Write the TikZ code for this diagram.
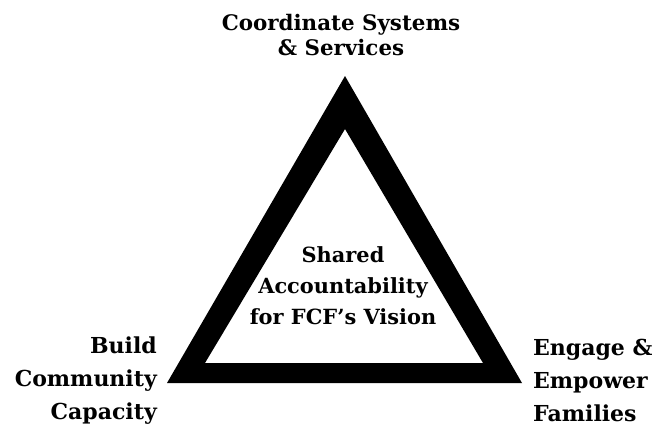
\documentclass[tikz,border=0pt]{standalone}
\usepackage{fontspec}
\newfontfamily\lblfont{DejaVu Serif}
\begin{document}
\begin{tikzpicture}[x=1pt,y=-1pt,
  lbl/.style 2 args={inner sep=0pt,font=\lblfont\bfseries\fontsize{#1}{#2}\selectfont},
  band/.style={fill=black,even odd rule}]
\useasboundingbox (0,0) rectangle (657,431);
% triangle corners
\coordinate (apex) at (345,76);
\coordinate (bl) at (167,383);
\coordinate (br) at (522,383);
\coordinate (iapex) at (345,129);
\coordinate (ibl) at (205,363);
\coordinate (ibr) at (483,363);
\fill[band] (apex) -- (br) -- (bl) -- cycle (iapex) -- (ibr) -- (ibl) -- cycle;
% labels
\node[lbl={21.4}{24.5},align=center,anchor=north] (top) at (341,14.5) {Coordinate Systems\\\& Services};
\node[lbl={20.9}{31},align=center,anchor=north] (mid) at (343,246) {Shared\\Accountability\\for FCF’s Vision};
\node[lbl={22}{33},align=right,anchor=north east] (left) at (157,337) {Build\\Community\\Capacity};
\node[lbl={22}{33},align=left,anchor=north west] (right) at (533,338.5) {Engage \&\\Empower\\Families};
\end{tikzpicture}
\end{document}
